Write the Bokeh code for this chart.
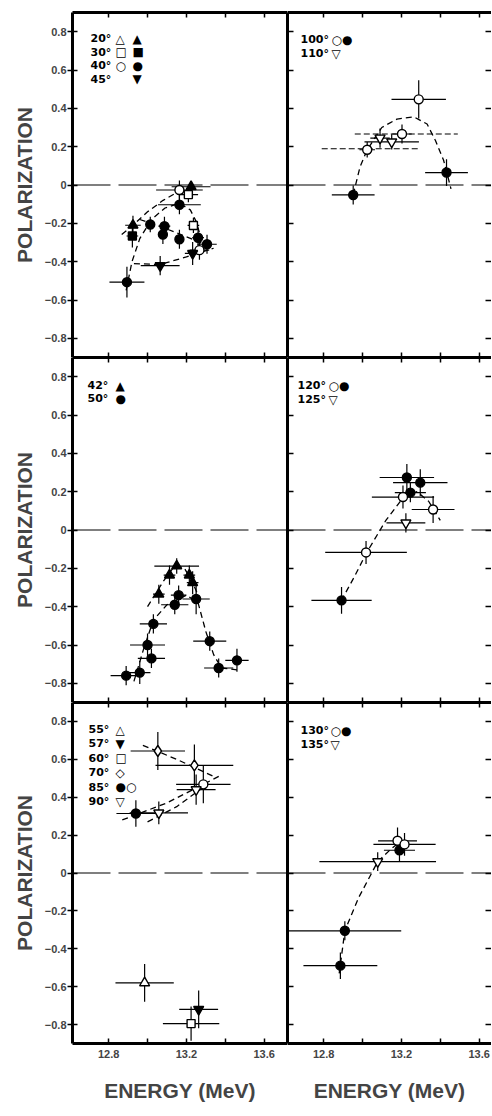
import numpy as np
from bokeh.plotting import figure
from bokeh.layouts import column, row
from bokeh.models import Range1d, FixedTicker, LinearAxis, Label, Span
from bokeh.embed import file_html
from bokeh.resources import INLINE

# ---------------- axes / text ----------------
X_TICKS = [12.8, 13.0, 13.2, 13.4, 13.6]
X_TICK_LABELS = ["12.8", "", "13.2", "", "13.6"]
Y_TICKS = [-0.8, -0.6, -0.4, -0.2, 0.0, 0.2, 0.4, 0.6, 0.8]
Y_TICK_LABELS = ["\u22120.8", "\u22120.6", "\u22120.4", "\u22120.2", "0", "0.2", "0.4", "0.6", "0.8"]
X_LABEL = "ENERGY (MeV)"
Y_LABEL = "POLARIZATION"

# ---------------- panel 1 : 20, 30, 40, 45 deg ----------------
P1_E = [12.925, 12.922, 12.894, 13.014, 13.087, 13.079, 13.164, 13.065, 13.164, 13.164, 13.224, 13.21, 13.236, 13.26, 13.306, 13.267, 13.232]
P1_P = [-0.21, -0.266, -0.507, -0.206, -0.215, -0.258, -0.283, -0.421, -0.103, -0.026, -0.009, -0.05, -0.211, -0.275, -0.309, -0.34, -0.357]
P1_DE = [0.04, 0.03, 0.09, 0.02, 0.03, 0.02, 0.02, 0.1, 0.11, 0.12, 0.1, 0.05, 0.03, 0.03, 0.05, 0.05, 0.04]
P1_DP = [0.05, 0.06, 0.08, 0.04, 0.05, 0.05, 0.05, 0.05, 0.05, 0.05, 0.03, 0.04, 0.04, 0.05, 0.05, 0.05, 0.06]
P1_MK = ["tri", "sq", "circ", "circ", "circ", "circ", "circ", "itri", "circ", "circ", "tri", "sq", "sq", "circ", "circ", "circ", "itri"]
P1_FL = [1, 1, 1, 1, 1, 1, 1, 1, 1, 0, 1, 0, 0, 1, 1, 0, 1]
P1_CA_E = [12.867, 12.925, 13.0, 13.08, 13.149, 13.25]
P1_CA_P = [-0.258, -0.21, -0.14, -0.08, -0.04, -0.01]
P1_CB_E = [12.89, 12.92, 12.96, 13.02, 13.09, 13.164, 13.22, 13.25, 13.27]
P1_CB_P = [-0.55, -0.40, -0.28, -0.18, -0.12, -0.095, -0.13, -0.19, -0.26]
P1_CC_E = [12.93, 13.065, 13.2, 13.34]
P1_CC_P = [-0.41, -0.415, -0.375, -0.33]
P1_CD_E = [12.96, 13.05, 13.15, 13.25, 13.33]
P1_CD_P = [-0.18, -0.21, -0.25, -0.29, -0.33]
L1_ANG = ["20\u00b0", "30\u00b0", "40\u00b0", "45\u00b0"]
L1_OPEN = ["\u25b3", "\u25a1", "\u25cb", ""]
L1_FILL = ["\u25b2", "\u25a0", "\u25cf", "\u25bc"]

# ---------------- panel 2 : 100, 110 deg ----------------
P2_E = [12.952, 13.024, 13.09, 13.15, 13.203, 13.289, 13.432]
P2_P = [-0.052, 0.184, 0.245, 0.225, 0.266, 0.447, 0.065]
P2_DE = [0.11, 0.04, 0.05, 0.14, 0.05, 0.14, 0.11]
P2_DP = [0.05, 0.04, 0.05, 0.04, 0.05, 0.1, 0.07]
P2_MK = ["circ", "circ", "itri", "itri", "circ", "circ", "circ"]
P2_FL = [1, 0, 0, 0, 0, 0, 1]
P2_SEG_E0 = [12.96, 12.79]
P2_SEG_E1 = [13.49, 13.29]
P2_SEG_P = [0.266, 0.189]
P2_C_E = [12.952, 12.987, 13.024, 13.099, 13.177, 13.263, 13.332, 13.375, 13.417, 13.455]
P2_C_P = [-0.05, 0.094, 0.184, 0.30, 0.344, 0.356, 0.318, 0.232, 0.129, -0.02]
L2_ANG = ["100\u00b0", "110\u00b0"]
L2_SYM = ["\u25cb\u25cf", "\u25bd"]

# ---------------- panel 3 : 42, 50 deg ----------------
P3_E = [13.058, 13.113, 13.15, 13.215, 13.232, 12.89, 12.96, 13.0, 13.02, 13.03, 13.14, 13.16, 13.25, 13.32, 13.366, 13.46]
P3_P = [-0.335, -0.235, -0.188, -0.235, -0.275, -0.76, -0.744, -0.60, -0.67, -0.49, -0.39, -0.34, -0.36, -0.58, -0.72, -0.68]
P3_DE = [0.03, 0.03, 0.115, 0.03, 0.03, 0.08, 0.055, 0.09, 0.07, 0.07, 0.07, 0.04, 0.07, 0.085, 0.075, 0.06]
P3_DP = [0.05, 0.05, 0.04, 0.05, 0.06, 0.05, 0.06, 0.06, 0.05, 0.05, 0.05, 0.05, 0.08, 0.05, 0.05, 0.06]
P3_MK = ["tri"] * 5 + ["circ"] * 11
P3_FL = [1] * 16
P3_CA_E = [13.0, 13.03, 13.08, 13.13, 13.15, 13.19, 13.23, 13.26]
P3_CA_P = [-0.40, -0.35, -0.27, -0.20, -0.185, -0.20, -0.27, -0.34]
P3_CB_E = [12.93, 12.98, 13.03, 13.1, 13.2, 13.26, 13.3, 13.34, 13.38, 13.46]
P3_CB_P = [-0.79, -0.62, -0.47, -0.39, -0.34, -0.38, -0.53, -0.65, -0.72, -0.73]
L3_ANG = ["42\u00b0", "50\u00b0"]
L3_SYM = ["\u25b2", "\u25cf"]

# ---------------- panel 4 : 120, 125 deg ----------------
P4_E = [12.892, 13.228, 13.297, 13.246, 13.018, 13.208, 13.363, 13.223]
P4_P = [-0.367, 0.274, 0.247, 0.195, -0.117, 0.172, 0.107, 0.037]
P4_DE = [0.155, 0.14, 0.14, 0.08, 0.21, 0.16, 0.11, 0.1]
P4_DP = [0.07, 0.07, 0.07, 0.05, 0.06, 0.06, 0.07, 0.05]
P4_MK = ["circ"] * 7 + ["itri"]
P4_FL = [1, 1, 1, 1, 0, 0, 0, 0]
P4_C_E = [12.89, 12.96, 13.02, 13.12, 13.21, 13.28, 13.34, 13.40]
P4_C_P = [-0.37, -0.24, -0.12, 0.05, 0.17, 0.20, 0.15, 0.05]
L4_ANG = ["120\u00b0", "125\u00b0"]
L4_SYM = ["\u25cb\u25cf", "\u25bd"]

# ---------------- panel 5 : 55 - 90 deg ----------------
P5_E = [12.985, 13.263, 13.224, 13.053, 13.241, 12.94, 13.287, 13.058, 13.25]
P5_P = [-0.58, -0.72, -0.795, 0.644, 0.568, 0.314, 0.468, 0.317, 0.44]
P5_DE = [0.15, 0.1, 0.145, 0.14, 0.2, 0.1, 0.14, 0.15, 0.1]
P5_DP = [0.1, 0.1, 0.09, 0.1, 0.11, 0.07, 0.1, 0.06, 0.08]
P5_MK = ["tri", "itri", "sq", "diam", "diam", "circ", "circ", "itri", "itri"]
P5_FL = [0, 1, 0, 0, 0, 1, 0, 0, 0]
P5_CA_E = [12.976, 13.15, 13.35]
P5_CA_P = [0.674, 0.6, 0.505]
P5_CB_E = [12.87, 13.1, 13.378]
P5_CB_P = [0.28, 0.37, 0.516]
P5_CC_E = [13.0, 13.15, 13.29]
P5_CC_P = [0.27, 0.35, 0.455]
L5_ANG = ["55\u00b0", "57\u00b0", "60\u00b0", "70\u00b0", "85\u00b0", "90\u00b0"]
L5_SYM = ["\u25b3", "\u25bc", "\u25a1", "\u25c7", "\u25cf\u25cb", "\u25bd"]

# ---------------- panel 6 : 130, 135 deg ----------------
P6_E = [12.886, 12.909, 13.19, 13.18, 13.216, 13.078]
P6_P = [-0.489, -0.305, 0.12, 0.17, 0.151, 0.06]
P6_DE = [0.19, 0.29, 0.08, 0.1, 0.16, 0.3]
P6_DP = [0.07, 0.05, 0.06, 0.07, 0.06, 0.05]
P6_MK = ["circ", "circ", "circ", "circ", "circ", "itri"]
P6_FL = [1, 1, 1, 0, 0, 0]
P6_C_E = [12.88, 12.909, 12.98, 13.078, 13.15, 13.2]
P6_C_P = [-0.53, -0.305, -0.13, 0.06, 0.13, 0.17]
L6_ANG = ["130\u00b0", "135\u00b0"]
L6_SYM = ["\u25cb\u25cf", "\u25bd"]

# ---------------- layout constants ----------------
X0 = 12.614
PPX = 194.4
FRAME_W = [215, 204]
FRAME_H = [345, 345, 341]
Y_LO, Y_HI = -0.9, 0.9
MARKERS = {"tri": "triangle", "sq": "square", "circ": "circle", "itri": "inverted_triangle", "diam": "diamond"}
MSIZE = {"tri": 10, "sq": 8, "circ": 9, "itri": 10, "diam": 11}
FONT = "Liberation Sans"


def hidden_labels(ax):
    ax.major_label_text_color = None
    ax.major_label_text_font_size = "1px"
    ax.major_label_standoff = 0
    ax.axis_label = None


def make_fig(col, r):
    fw, fh = FRAME_W[col], FRAME_H[r]
    p = figure(frame_width=fw, frame_height=fh,
               x_range=Range1d(X0, X0 + fw / PPX), y_range=Range1d(Y_LO, Y_HI),
               output_backend="svg", toolbar_location=None, tools="",
               min_border_left=72 if col == 0 else 0, min_border_right=0,
               min_border_top=12 if r == 0 else 0,
               min_border_bottom=65 if r == 2 else 0)
    p.outline_line_color = None
    p.xgrid.visible = False
    p.ygrid.visible = False
    p.border_fill_color = "white"
    p.background_fill_color = "white"

    xa = p.xaxis[0]
    xa.ticker = FixedTicker(ticks=X_TICKS)
    xa.axis_line_width = 3
    xa.major_tick_in = 5
    xa.major_tick_out = 0
    xa.major_tick_line_width = 1.5
    xa.minor_tick_line_color = None
    if r == 2:
        xa.major_label_overrides = {t: l for t, l in zip(X_TICKS, X_TICK_LABELS)}
        xa.major_label_text_font = FONT
        xa.major_label_text_font_style = "bold"
        xa.major_label_text_font_size = "11px"
        xa.major_label_standoff = 6
        xa.axis_label = X_LABEL
        xa.axis_label_text_font = FONT
        xa.axis_label_text_font_style = "bold"
        xa.axis_label_text_font_size = "21px"
        xa.axis_label_standoff = 18
    else:
        hidden_labels(xa)

    top = LinearAxis(ticker=FixedTicker(ticks=X_TICKS), axis_line_width=3,
                     major_tick_in=5, major_tick_out=0, major_tick_line_width=1.5,
                     minor_tick_line_color=None)
    hidden_labels(top)
    p.add_layout(top, "above")

    ya = p.yaxis[0]
    ya.ticker = FixedTicker(ticks=Y_TICKS)
    ya.axis_line_width = 3
    ya.major_tick_line_width = 1.5
    ya.minor_tick_line_color = None
    if col == 0:
        ya.major_tick_in = 5
        ya.major_tick_out = 5
        ya.major_label_overrides = {t: l for t, l in zip(Y_TICKS, Y_TICK_LABELS)}
        ya.major_label_text_font = FONT
        ya.major_label_text_font_style = "bold"
        ya.major_label_text_font_size = "11px"
        ya.major_label_standoff = 1
        ya.axis_label = Y_LABEL
        ya.axis_label_text_font = FONT
        ya.axis_label_text_font_style = "bold"
        ya.axis_label_text_font_size = "21px"
        ya.axis_label_standoff = 6
        rt = LinearAxis(ticker=FixedTicker(ticks=Y_TICKS), axis_line_width=3,
                        major_tick_in=0, major_tick_out=0, minor_tick_line_color=None)
        hidden_labels(rt)
        p.add_layout(rt, "right")
    else:
        ya.major_tick_in = 6
        ya.major_tick_out = 0
        hidden_labels(ya)
        rt = LinearAxis(ticker=FixedTicker(ticks=Y_TICKS), axis_line_color=None,
                        major_tick_in=6, major_tick_out=0, major_tick_line_width=1.5,
                        minor_tick_line_color=None)
        hidden_labels(rt)
        p.add_layout(rt, "right")

    p.add_layout(Span(location=0, dimension="width", line_color="black",
                      line_width=1.2, line_dash="38 8"))
    return p


def draw_points(p, E, P, DE, DP, MK, FL):
    E, P, DE, DP = map(np.asarray, (E, P, DE, DP))
    p.segment(E - DE, P, E + DE, P, line_color="black", line_width=1.2)
    p.segment(E, P - DP, E, P + DP, line_color="black", line_width=1.2)
    for code in MARKERS:
        for fill in (1, 0):
            idx = [i for i in range(len(E)) if MK[i] == code and FL[i] == fill]
            if not idx:
                continue
            p.scatter(E[idx], P[idx], marker=MARKERS[code], size=MSIZE[code],
                      fill_color="black" if fill else "white",
                      line_color="black", line_width=1.4)


def draw_curve(p, E, P):
    p.line(E, P, line_color="black", line_width=1.3, line_dash="6 4")


def add_text(p, col, r, text, dx, dy, style="bold", size="11px"):
    fh = FRAME_H[r]
    ppy = fh / (Y_HI - Y_LO)
    p.add_layout(Label(x=X0 + dx / PPX, y=Y_HI - dy / ppy, text=text,
                       text_font="DejaVu Sans", text_font_style=style,
                       text_font_size=size, text_baseline="middle",
                       text_color="black"))


def add_legend(p, col, r, angles, syms, dx_a, dx_s, dy0, step):
    for i, (a, s) in enumerate(zip(angles, syms)):
        if a:
            add_text(p, col, r, a, dx_a, dy0 + i * step)
        if s:
            add_text(p, col, r, s, dx_s, dy0 + i * step, style="normal", size="12px")


figs = [[make_fig(c, r) for c in range(2)] for r in range(3)]

# panel 1
p = figs[0][0]
draw_curve(p, P1_CA_E, P1_CA_P)
draw_curve(p, P1_CB_E, P1_CB_P)
draw_curve(p, P1_CC_E, P1_CC_P)
draw_curve(p, P1_CD_E, P1_CD_P)
draw_points(p, P1_E, P1_P, P1_DE, P1_DP, P1_MK, P1_FL)
add_legend(p, 0, 0, L1_ANG, L1_OPEN, 18, 43, 26, 13.5)
add_legend(p, 0, 0, ["" for _ in L1_ANG], L1_FILL, 18, 60, 26, 13.5)

# panel 2
p = figs[0][1]
p.segment(P2_SEG_E0, P2_SEG_P, P2_SEG_E1, P2_SEG_P, line_color="black", line_width=1.1, line_dash="6 3")
draw_curve(p, P2_C_E, P2_C_P)
draw_points(p, P2_E, P2_P, P2_DE, P2_DP, P2_MK, P2_FL)
add_legend(p, 1, 0, L2_ANG, L2_SYM, 13, 44, 27, 14)

# panel 3
p = figs[1][0]
draw_curve(p, P3_CA_E, P3_CA_P)
draw_curve(p, P3_CB_E, P3_CB_P)
draw_points(p, P3_E, P3_P, P3_DE, P3_DP, P3_MK, P3_FL)
add_legend(p, 0, 1, L3_ANG, L3_SYM, 15, 43, 28, 13)

# panel 4
p = figs[1][1]
draw_curve(p, P4_C_E, P4_C_P)
draw_points(p, P4_E, P4_P, P4_DE, P4_DP, P4_MK, P4_FL)
add_legend(p, 1, 1, L4_ANG, L4_SYM, 10, 41, 28, 14)

# panel 5
p = figs[2][0]
draw_curve(p, P5_CA_E, P5_CA_P)
draw_curve(p, P5_CB_E, P5_CB_P)
draw_curve(p, P5_CC_E, P5_CC_P)
draw_points(p, P5_E, P5_P, P5_DE, P5_DP, P5_MK, P5_FL)
add_legend(p, 0, 2, L5_ANG, L5_SYM, 16, 43, 27, 14.4)

# panel 6
p = figs[2][1]
draw_curve(p, P6_C_E, P6_C_P)
draw_points(p, P6_E, P6_P, P6_DE, P6_DP, P6_MK, P6_FL)
add_legend(p, 1, 2, L6_ANG, L6_SYM, 13, 43, 28, 14)

layout = column(*[row(*figs[r], spacing=0) for r in range(3)], spacing=0)
open("out.html", "w").write(file_html(layout, INLINE))
